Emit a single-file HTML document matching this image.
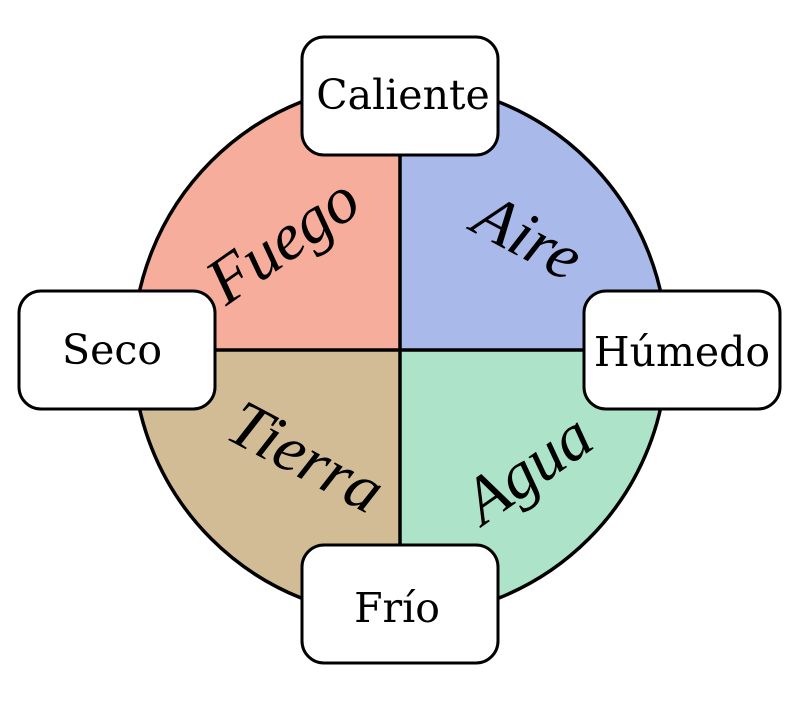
<!DOCTYPE html>
<html><head><meta charset="utf-8"><style>
body{margin:0;background:#fff;width:800px;height:700px;overflow:hidden}
</style></head><body>
<svg width="800" height="700" viewBox="0 0 800 700" xmlns="http://www.w3.org/2000/svg">
<path d="M400,350 L400,83 A267,267 0 0 0 133,350 Z" fill="#f6ad9c"/>
<path d="M400,350 L667,350 A267,267 0 0 0 400,83 Z" fill="#a9b9e9"/>
<path d="M400,350 L133,350 A267,267 0 0 0 400,617 Z" fill="#d1bc95"/>
<path d="M400,350 L400,617 A267,267 0 0 0 667,350 Z" fill="#ade3c8"/>
<circle cx="400" cy="350" r="267" fill="none" stroke="#000" stroke-width="3.5"/>
<line x1="400" y1="83" x2="400" y2="617" stroke="#000" stroke-width="3.5"/>
<line x1="133" y1="350" x2="667" y2="350" stroke="#000" stroke-width="3.5"/>
<g font-family="'Liberation Serif', serif" font-style="italic" font-size="66" text-anchor="middle">
<text transform="translate(295,258) rotate(-35)">Fuego</text>
<text transform="translate(518,256) rotate(28)">Aire</text>
<text transform="translate(296,476) rotate(28)">Tierra</text>
<text transform="translate(540,486) rotate(-35)">Agua</text>
</g>
<g fill="#fff" stroke="#000" stroke-width="3">
<rect x="302" y="37" width="196" height="118" rx="22"/>
<rect x="19" y="291" width="196" height="118" rx="22"/>
<rect x="584" y="291" width="196" height="118" rx="22"/>
<rect x="302" y="545" width="196" height="118" rx="22"/>
</g>
<g font-family="'DejaVu Serif', serif" font-size="41" text-anchor="middle">
<text x="403" y="109">Caliente</text>
<text x="112" y="364">Seco</text>
<text x="682" y="366">Húmedo</text>
<text x="397" y="622">Frío</text>
</g>
</svg>
</body></html>
